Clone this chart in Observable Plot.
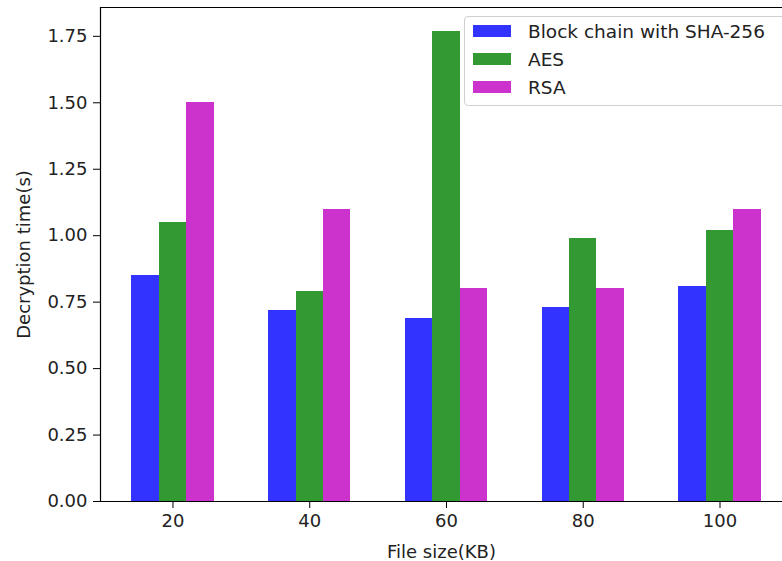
<!DOCTYPE html>
<html>
<head>
<meta charset="utf-8">
<script src="https://cdn.jsdelivr.net/npm/d3@7"></script>
<script src="https://cdn.jsdelivr.net/npm/@observablehq/plot@0.6"></script>
<style>
  body { margin: 0; background: #fff; }
  #wrap { position: relative; width: 782px; height: 561px; overflow: hidden; font-family: "DejaVu Sans", sans-serif; }
  #legend { position: absolute; left: 464px; top: 16px; width: 340px; height: 90px; border: 1px solid #d0d0d0; border-radius: 4px; background: rgba(255,255,255,0.85); box-sizing: border-box; }
  .row { position: absolute; left: 8px; height: 20px; display: flex; align-items: center; font-size: 18.5px; color: #222; white-space: nowrap; }
  .sw { width: 38px; height: 12px; margin-right: 17px; }
</style>
</head>
<body>
<div id="wrap"></div>
<script>
const fileSizes = ["20", "40", "60", "80", "100"];
const seriesNames = ["Block chain with SHA-256", "AES", "RSA"];
const seriesColors = ["#3333ff", "#339933", "#cc33cc"];
const blockchain = [0.85, 0.72, 0.69, 0.73, 0.81];
const aes = [1.05, 0.79, 1.77, 0.99, 1.02];
const rsa = [1.50, 1.10, 0.80, 0.80, 1.10];
const yTicks = [0, 0.25, 0.5, 0.75, 1.0, 1.25, 1.5, 1.75];

const seriesValues = [blockchain, aes, rsa];
const barW = 0.2;
const data = [];
seriesValues.forEach((vals, s) => {
  vals.forEach((v, i) => {
    const c = i + (s - 1) * barW;
    data.push({x1: c - barW / 2, x2: c + barW / 2, value: v, series: seriesNames[s]});
  });
});

const ymax = d3.max(seriesValues.flat()) * 1.05;
const xmin = -0.53;

const chart = Plot.plot({
  width: 782,
  height: 561,
  marginLeft: 100,
  marginRight: 0,
  marginTop: 7,
  marginBottom: 60,
  style: {fontFamily: "DejaVu Sans, sans-serif", fontSize: "18px", color: "#222", background: "white"},
  x: {type: "linear", domain: [xmin, 4.457]},
  y: {domain: [0, ymax]},
  color: {domain: seriesNames, range: seriesColors},
  marks: [
    Plot.rect(data, {x1: "x1", x2: "x2", y1: 0, y2: "value", fill: "series", shapeRendering: "crispEdges"}),
    Plot.axisX({ticks: [0, 1, 2, 3, 4], tickFormat: i => fileSizes[i], tickSize: 7, tickPadding: 6, stroke: "black",
      label: "File size(KB)", labelAnchor: "center", labelArrow: "none", labelOffset: 56}),
    Plot.axisY({ticks: yTicks, tickFormat: d3.format(".2f"), tickSize: 7, tickPadding: 6, stroke: "black",
      label: "Decryption time(s)", labelAnchor: "center", labelArrow: "none", labelOffset: 83}),
    Plot.ruleY([0], {stroke: "black", strokeWidth: 1.2}),
    Plot.ruleY([ymax], {stroke: "black", strokeWidth: 1.2}),
    Plot.ruleX([xmin], {stroke: "black", strokeWidth: 1.2})
  ]
});

const wrap = document.getElementById("wrap");
wrap.appendChild(chart);

const legend = document.createElement("div");
legend.id = "legend";
const tops = [4, 32, 60];
seriesNames.forEach((name, s) => {
  const row = document.createElement("div");
  row.className = "row";
  row.style.top = tops[s] + "px";
  const sw = document.createElement("div");
  sw.className = "sw";
  sw.style.background = seriesColors[s];
  const t = document.createElement("span");
  t.textContent = name;
  row.appendChild(sw);
  row.appendChild(t);
  legend.appendChild(row);
});
wrap.appendChild(legend);
</script>
</body>
</html>
